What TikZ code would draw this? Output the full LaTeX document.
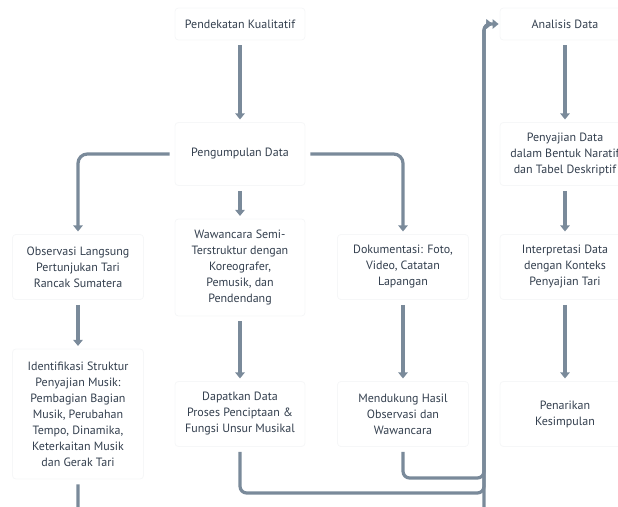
\documentclass[tikz,border=0pt]{standalone}
\usepackage{fontspec}
\setmainfont{PT Sans}
\usetikzlibrary{arrows.meta}
\definecolor{txt}{HTML}{333F4E}
\definecolor{edge}{HTML}{7A8A9A}
\definecolor{boxline}{HTML}{F6F7F8}
\tikzset{
  box/.style={draw=boxline, line width=0.6pt, fill=white, rounded corners=2.5pt,
    align=center, text=txt, font=\fontsize{9}{12}\selectfont, inner sep=2pt,
    minimum width=97.5pt},
  arr/.style={draw=edge, line width=2.4pt, rounded corners=7pt,
    -{Triangle[length=4.5pt,width=7pt]}, shorten <=3.75pt, shorten >=2pt},
}
\begin{document}
\begin{tikzpicture}[x=0.75pt,y=-0.75pt]
\useasboundingbox (0,0) rectangle (618,507);
\clip (0,0) rectangle (618,507);
\node[box, minimum height=24pt] (pk) at (240,24) {Pendekatan Kualitatif};
\node[box, minimum height=47.25pt] (pd) at (240,154) {Pengumpulan Data};
\node[box, minimum height=48.75pt, minimum width=98.25pt] (ob) at (78,267) {Observasi Langsung\\Pertunjukan Tari\\Rancak Sumatera};
\node[box, minimum height=72.75pt] (ww) at (240,267.5) {Wawancara Semi-\\Terstruktur dengan\\Koreografer,\\Pemusik, dan\\Pendendang};
\node[box, minimum height=48.75pt, minimum width=98.25pt] (dk) at (403,267) {Dokumentasi: Foto,\\Video, Catatan\\Lapangan};
\node[box, minimum height=97.5pt, minimum width=98.25pt] (id) at (78,414) {Identifikasi Struktur\\Penyajian Musik:\\Pembagian Bagian\\Musik, Perubahan\\Tempo, Dinamika,\\Keterkaitan Musik\\dan Gerak Tari};
\node[box, minimum height=48.75pt] (dp) at (240,414) {Dapatkan Data\\Proses Penciptaan \&\\Fungsi Unsur Musikal};
\node[box, minimum height=48.75pt, minimum width=98.25pt] (md) at (403,414) {Mendukung Hasil\\Observasi dan\\Wawancara};
\node[box, minimum height=24pt] (an) at (565,24) {Analisis Data};
\node[box, minimum height=47.25pt] (pj) at (565,154) {Penyajian Data\\dalam Bentuk Naratif\\dan Tabel Deskriptif};
\node[box, minimum height=48.75pt] (ip) at (565,267) {Interpretasi Data\\dengan Konteks\\Penyajian Tari};
\node[box, minimum height=48.75pt] (ks) at (565,414) {Penarikan\\Kesimpulan};

\draw[arr] (pk.south) -- (pd.north);
\draw[arr] (pd.west) -| (ob.north);
\draw[arr] (pd.south) -- (ww.north);
\draw[arr] (pd.east) -| (dk.north);
\draw[arr] (ob.south) -- (id.north);
\draw[arr] (ww.south) -- (dp.north);
\draw[arr] (dk.south) -- (md.north);
\draw[arr] (an.south) -- (pj.north);
\draw[arr] (pj.south) -- (ip.north);
\draw[arr] (ip.south) -- (ks.north);
\coordinate (up) at (484,24);
\draw[arr, rounded corners=5pt, shorten >=5.5pt] (id.south) -- (78,530) -- (484,530) -- (up) -- (an.west);
\draw[arr, rounded corners=5pt, shorten >=5.5pt] (dp.south) -- (240,493) -- (484,493) -- (up) -- (an.west);
\draw[arr, rounded corners=5pt, shorten >=0.75pt] (md.south) -- (403,478) -- (484,478) -- (up) -- (an.west);
\end{tikzpicture}
\end{document}
